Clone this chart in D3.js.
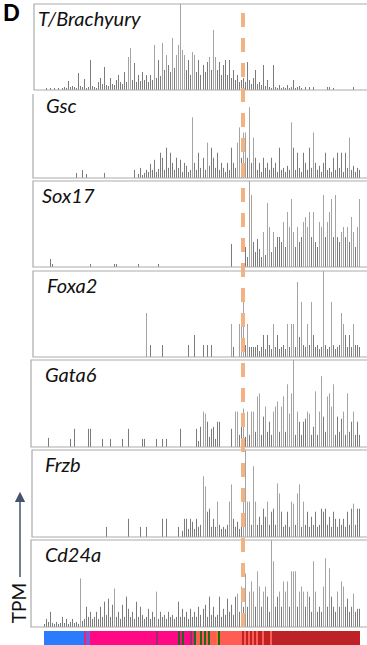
<!DOCTYPE html>
<html>
<head>
<meta charset="utf-8">
<script src="https://cdn.jsdelivr.net/npm/d3@7"></script>
<style>
  html, body { margin: 0; padding: 0; background: #fff; }
  svg { display: block; }
</style>
</head>
<body>
<div id="chart"></div>
<script>
// genes, one panel each
const genes = ["T/Brachyury", "Gsc", "Sox17", "Foxa2", "Gata6", "Frzb", "Cd24a"];

// TPM per cell (cells ordered along pseudotime), 158 cells
const brachyury = [
  0,2,0,2,0, 2,0,2,0,2, 3,2,9,3,4, 3,2,17,4,3, 11,2,3,30,4, 3,2,8,12,6,
  23,5,4,12,6, 5,10,15,8,6, 18,8,33,42,10, 27,8,15,9,18, 10,15,8,15,10,
  45,12,30,14,47, 20,35,25,18,52, 22,35,45,95,40, 35,20,30,15,38, 35,18,30,15,25,
  18,28,33,20,60, 33,20,28,15,25, 30,15,30,12,20, 10,15,8,10,12, 8,28,10,6,12,
  20,6,8,5,25, 4,10,3,2,25, 3,2,5,2,3, 2,5,2,3,10, 2,3,4,2,0,
  3,0,3,0,3, 0,0,0,0,0, 0,3,3,0,2, 0,0,0,0,0, 0,0,0,0,3, 0,0,0
];
const gsc = [
  0,0,0,0,0, 0,0,0,0,0, 0,0,0,0,0, 0,5,0,0,8, 0,4,0,0,0, 0,0,0,0,0,
  5,0,0,0,0, 0,0,0,0,0, 0,0,0,0,0, 8,0,4,10,3, 5,8,6,14,8,
  18,6,9,25,20, 8,30,10,25,15, 8,20,10,18,6, 15,12,6,8,60, 15,8,25,10,20,
  8,35,12,30,20, 10,25,8,15,10, 6,15,8,30,15, 10,35,50,20,45, 45,20,70,15,40,
  20,8,15,6,20, 10,15,8,20,10, 15,6,30,8,10, 6,12,8,55,30, 8,25,10,6,25,
  15,8,30,10,45, 15,8,12,6,15, 25,8,10,6,20, 8,25,10,25,6, 25,10,40,8,12, 6,10,8
];
const sox17 = [
  0,0,0,8,3, 0,0,0,0,0, 0,0,0,0,0, 0,0,0,0,0, 0,0,0,3,0, 0,0,0,0,0,
  0,0,0,0,0, 3,3,0,0,0, 0,0,0,0,0, 0,0,3,0,0, 0,0,0,0,0,
  0,0,3,0,0, 0,0,0,0,0, 0,0,0,0,0, 0,0,0,0,0, 0,0,0,0,0,
  0,0,0,0,0, 0,0,0,0,0, 0,0,0,23,0, 0,0,0,0,4, 20,10,95,72,25,
  15,28,18,10,35, 12,64,40,15,35, 20,30,30,25,45, 20,55,40,68,35, 20,40,25,30,45,
  50,40,55,30,55, 25,20,45,40,72, 30,45,55,68,30, 72,30,25,35,40, 30,40,25,50,35, 20,40,68
];
const foxa2 = [
  0,0,0,0,0, 0,0,0,0,0, 0,0,0,0,0, 0,0,0,0,0, 0,0,0,0,0, 0,0,0,0,0,
  0,0,0,0,0, 0,0,0,0,0, 0,0,0,0,0, 0,0,0,0,0, 0,44,0,12,0,
  0,0,0,0,12, 0,0,0,0,0, 0,0,0,0,0, 0,0,12,0,0, 22,0,0,0,12,
  0,12,0,12,0, 0,0,0,0,0, 0,0,0,33,10, 0,0,33,44,63, 12,33,10,10,10,
  10,12,6,10,22, 8,22,12,8,33, 10,22,8,10,12, 8,33,10,33,33, 10,75,20,55,12,
  10,33,12,55,22, 10,12,8,10,95, 12,8,10,55,12, 8,10,12,44,33, 22,10,22,10,33, 12,12,10
];
const gata6 = [
  0,0,9,0,0, 0,0,0,0,0, 0,0,0,8,0, 18,0,0,0,0, 0,0,18,18,0, 0,0,0,0,8,
  0,0,0,8,0, 0,0,0,0,8, 0,0,18,0,0, 0,0,0,0,8, 8,0,0,0,0,
  0,8,0,0,8, 0,8,0,0,0, 0,0,0,18,0, 0,0,0,0,0, 0,18,6,20,35,
  33,25,10,18,20, 8,25,25,0,0, 0,0,0,18,0, 35,35,12,20,38, 10,35,12,35,35,
  15,50,53,12,30, 40,15,25,12,35, 40,45,15,40,50, 15,62,33,53,95, 12,35,25,12,25,
  28,35,33,12,20, 55,12,35,70,30, 15,50,53,40,62, 12,30,15,28,35, 12,53,15,25,35, 12,25,12
];
const frzb = [
  0,0,0,0,0, 0,0,0,0,0, 0,0,0,0,0, 0,0,0,0,0, 0,0,0,0,0, 0,0,0,0,0,
  0,10,0,0,0, 0,0,0,0,0, 0,0,18,0,0, 0,0,0,10,0, 0,10,0,0,0,
  0,0,0,0,18, 0,18,0,0,0, 0,0,10,0,6, 18,18,8,18,15, 8,18,10,12,60,
  50,25,28,10,18, 10,35,12,8,10, 8,12,35,52,18, 10,15,8,12,45, 95,35,35,12,70,
  35,12,20,12,28, 20,35,12,25,28, 12,53,43,25,10, 12,25,10,35,33, 12,43,52,10,35,
  12,25,10,20,12, 25,10,12,28,25, 28,12,20,10,25, 18,10,18,12,18, 10,25,12,28,33, 12,28,28
];
const cd24a = [
  3,8,5,15,4, 3,5,3,4,10, 4,8,3,5,8, 4,5,3,48,6, 8,20,10,15,8, 10,15,8,20,10,
  25,12,28,10,22, 38,10,15,8,22, 10,30,18,10,15, 8,25,10,20,12, 8,10,18,8,15,
  10,35,8,15,10, 12,8,15,10,12, 8,10,25,10,18, 10,15,8,18,10, 15,10,20,12,18,
  22,10,30,12,20, 10,12,30,10,18, 12,28,15,22,12, 30,33,15,40,20, 53,20,35,45,35,
  20,55,40,20,35, 40,30,15,95,65, 20,30,35,20,45, 35,45,20,55,55, 55,20,35,40,35,
  20,35,30,15,65, 35,15,20,15,40, 68,20,58,30,20, 15,35,20,45,40, 20,28,15,20,33, 15,18,18
];
const tpm = [brachyury, gsc, sox17, foxa2, gata6, frzb, cd24a];
const tpmMax = 86;

// cell-type bar under the panels: [type, number of cells]
const cellTypes = ["a", "b", "c", "d", "e", "f", "g", "h", "i"];
const cellColors = ["#2b7bff", "#dc2a78", "#7a5ad6", "#ff0a84", "#9a2c6c", "#1f661f", "#ff5c52", "#f07a2a", "#be2226"];
const stripRuns = [
  [0,20],[1,1],[2,2],[3,33],[4,1],[3,10],[5,1],[3,1],[5,1],[3,3],[4,1],[1,1],[5,1],
  [6,2],[5,1],[6,1],[5,1],[6,1],[5,1],[6,3],[7,1],[5,1],[6,11],
  [8,1],[6,1],[8,1],[6,1],[8,1],[6,1],[8,1],[6,1],[8,2],[6,1],[8,3],[6,1],[8,44]
];
const branchCell = 99; // cell index of the dashed line

const W = 367, H = 645;
const panelTop = [4, 91, 181, 271, 360, 450, 540];
const panelBottom = [90, 178, 267, 357, 447, 537, 627];
const panelLeft = [34, 33, 33, 33, 31, 32, 31];
const labelX = [38, 46, 42, 47, 45, 45, 45];

const svg = d3.select("#chart").append("svg")
  .attr("width", W)
  .attr("height", H);

const x = d3.scaleBand()
  .domain(d3.range(brachyury.length))
  .range([44, 360])
  .paddingInner(0.5);

const cellX = d3.scaleLinear()
  .domain([0, brachyury.length])
  .range([44, 360]);

genes.forEach((gene, i) => {
  const top = panelTop[i], bottom = panelBottom[i];
  const y = d3.scaleLinear().domain([0, tpmMax]).range([bottom, top]).clamp(true);
  const g = svg.append("g");

  g.selectAll("rect")
    .data(tpm[i])
    .join("rect")
    .attr("x", (d, j) => Math.round(x(j)))
    .attr("y", d => y(d))
    .attr("width", 1)
    .attr("height", d => bottom - y(d))
    .attr("fill", d => d > 30 ? "#a4a4a4" : "#7b7b7b");

  // box; the Gsc box has no top edge
  const l = panelLeft[i];
  const path = i === 1
    ? `M${l},${top + 3} L${l},${bottom} L${W + 5},${bottom}`
    : `M${W + 5},${top} L${l},${top} L${l},${bottom} L${W + 5},${bottom}`;
  g.append("path")
    .attr("d", path)
    .attr("fill", "none")
    .attr("stroke", "#ababab")
    .attr("stroke-width", 1.2);

  g.append("text")
    .attr("x", labelX[i])
    .attr("y", top + 22)
    .attr("font-family", "Lato, 'Open Sans', sans-serif")
    .attr("font-style", "italic")
    .attr("font-size", 20)
    .attr("fill", "#111")
    .text(gene);
});

// cell-type strip
let acc = 0;
const runs = stripRuns.map(([t, n]) => { const r = { t, start: acc, n }; acc += n; return r; });
svg.append("g")
  .selectAll("rect")
  .data(runs)
  .join("rect")
  .attr("x", d => cellX(d.start))
  .attr("y", 631)
  .attr("width", d => cellX(d.start + d.n) - cellX(d.start))
  .attr("height", 16)
  .attr("fill", d => cellColors[d.t]);

// branch point
svg.append("line")
  .attr("x1", cellX(branchCell) + 1)
  .attr("x2", cellX(branchCell) + 1)
  .attr("y1", 13)
  .attr("y2", 628)
  .attr("stroke", "#f4b183")
  .attr("stroke-width", 4)
  .attr("stroke-dasharray", "14 11");

// panel letter
svg.append("text")
  .attr("x", 3)
  .attr("y", 21)
  .attr("font-family", "Lato, sans-serif")
  .attr("font-weight", "900")
  .attr("font-size", 22)
  .text("D");

// TPM axis hint
svg.append("defs").append("marker")
  .attr("id", "head")
  .attr("viewBox", "0 0 10 10")
  .attr("refX", 5).attr("refY", 5)
  .attr("markerWidth", 7).attr("markerHeight", 7)
  .attr("orient", "auto")
  .append("path")
  .attr("d", "M0,0 L10,5 L0,10 z")
  .attr("fill", "#44546a");

svg.append("line")
  .attr("x1", 20).attr("x2", 20)
  .attr("y1", 577).attr("y2", 497)
  .attr("stroke", "#44546a")
  .attr("stroke-width", 1.5)
  .attr("marker-end", "url(#head)");

svg.append("text")
  .attr("transform", "translate(26,603) rotate(-90)")
  .attr("text-anchor", "middle")
  .attr("font-family", "Lato, sans-serif")
  .attr("font-size", 19)
  .attr("fill", "#111")
  .text("TPM");
</script>
</body>
</html>
